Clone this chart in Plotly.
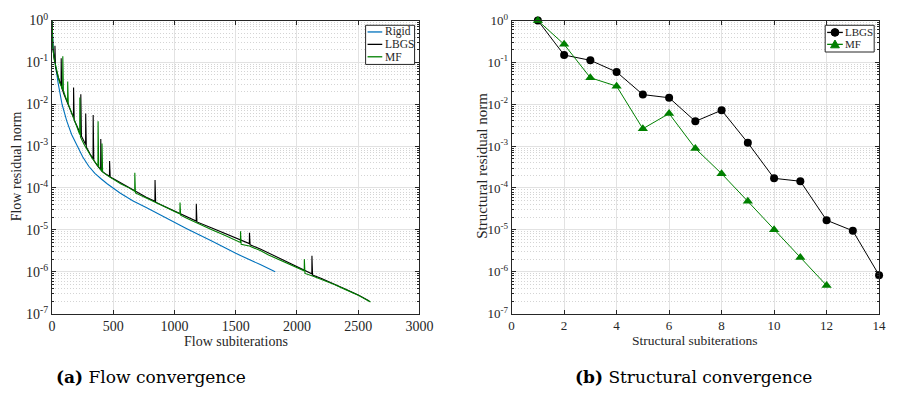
import plotly.graph_objects as go

# ---- Flow convergence (left panel) ----
rigid_iter = [0, 4, 10, 25, 50, 82, 120, 160, 205, 250, 300, 350, 400, 450, 555, 662,
              769, 943, 1100, 1300, 1500, 1700, 1822]
rigid_res = [1.0, 0.4, 0.2, 0.1, 0.032, 0.01, 0.004, 0.0019, 0.001, 5.6e-4, 3.3e-4,
             2.24e-4, 1.66e-4, 1.26e-4, 7.6e-5, 4.9e-5, 3.4e-5, 1.82e-5, 1.07e-5,
             5.5e-6, 2.75e-6, 1.48e-6, 1.0e-6]

lbgs_iter = [0, 6, 16, 23, 24, 28, 45, 70, 74, 75, 79, 100, 128, 150, 175, 176, 181, 200,
             234, 235, 240, 260, 274, 275, 280, 310, 335, 336, 341, 370, 397, 398, 403,
             435, 469, 470, 475, 502, 560, 636, 700, 769, 840, 841, 846, 920, 1000, 1100,
             1177, 1178, 1183, 1300, 1400, 1500, 1611, 1612, 1617, 1700, 1768, 1848, 1930,
             2008, 2121, 2122, 2127, 2200, 2300, 2384, 2500, 2590]
lbgs_res = [1.0, 0.24, 0.13, 0.10, 0.25, 0.079, 0.05, 0.030, 0.028, 0.126, 0.025, 0.0166,
            0.01, 0.0071, 0.0048, 0.025, 0.0042, 0.0032, 0.0019, 0.0174, 0.00174, 0.00132,
            0.0011, 0.006, 0.00095, 0.00066, 0.0005, 0.0055, 0.00046, 0.00034, 0.000275,
            0.00148, 0.00026, 0.00022, 0.00019, 0.00044, 0.000182, 0.000166, 0.000132,
            1.0e-4, 7.9e-5, 6.0e-5, 4.8e-5, 1.55e-4, 4.6e-5, 3.6e-5, 2.8e-5, 2.0e-5,
            1.62e-5, 4.2e-5, 1.55e-5, 1.12e-5, 8.5e-6, 6.5e-6, 4.7e-6, 8.5e-6, 4.4e-6,
            3.5e-6, 2.8e-6, 2.14e-6, 1.66e-6, 1.32e-6, 8.9e-7, 2.4e-6, 8.3e-7, 6.9e-7,
            5.2e-7, 4.0e-7, 2.8e-7, 2.0e-7]

mf_iter = [0, 8, 20, 40, 60, 87, 88, 93, 110, 127, 128, 133, 160, 195, 226, 227, 232, 260,
           288, 330, 375, 376, 381, 407, 408, 413, 450, 502, 560, 636, 675, 676, 681, 769,
           840, 920, 1000, 1044, 1045, 1050, 1100, 1177, 1300, 1400, 1538, 1539, 1544,
           1611, 1700, 1768, 1848, 1930, 2008, 2059, 2060, 2065, 2127, 2200, 2300, 2384,
           2500, 2600]
mf_res = [1.0, 0.2, 0.112, 0.063, 0.035, 0.022, 0.14, 0.021, 0.015, 0.0112, 0.035, 0.01,
          0.0063, 0.0032, 0.0019, 0.0145, 0.00166, 0.00112, 0.00081, 0.0005, 0.00034,
          0.0039, 0.00032, 0.00025, 0.00115, 0.00024, 0.0002, 0.000162, 0.000126, 9.8e-5,
          8.3e-5, 2.3e-4, 7.6e-5, 5.8e-5, 4.7e-5, 3.55e-5, 2.75e-5, 2.4e-5, 4.5e-5,
          2.24e-5, 1.9e-5, 1.48e-5, 1.02e-5, 7.6e-6, 5.0e-6, 9.3e-6, 4.5e-6, 4.1e-6,
          3.2e-6, 2.5e-6, 1.95e-6, 1.51e-6, 1.2e-6, 1.05e-6, 2.0e-6, 9.1e-7, 7.9e-7,
          6.6e-7, 5.0e-7, 3.9e-7, 2.75e-7, 1.9e-7]

# ---- Structural convergence (right panel) ----
lbgs_s_iter = [1, 2, 3, 4, 5, 6, 7, 8, 9, 10, 11, 12, 13, 14]
lbgs_s_res = [1.0, 0.15, 0.112, 0.059, 0.017, 0.0143, 0.0039, 0.0072, 0.0012, 1.7e-4,
              1.45e-4, 1.7e-5, 9.5e-6, 8.3e-7]
mf_s_iter = [1, 2, 3, 4, 5, 6, 7, 8, 9, 10, 11, 12]
mf_s_res = [1.0, 0.27, 0.043, 0.027, 0.0026, 0.006, 8.8e-4, 2.2e-4, 4.8e-5, 1.0e-5,
            2.2e-6, 4.7e-7]

# Tick labels
decade_vals = [1e-7, 1e-6, 1e-5, 1e-4, 1e-3, 1e-2, 1e-1, 1e0]
decade_text = ["10<sup>-7</sup>", "10<sup>-6</sup>", "10<sup>-5</sup>", "10<sup>-4</sup>",
               "10<sup>-3</sup>", "10<sup>-2</sup>", "10<sup>-1</sup>", "10<sup>0</sup>"]
flow_xticks = [0, 500, 1000, 1500, 2000, 2500, 3000]
struct_xticks = [0, 2, 4, 6, 8, 10, 12, 14]

W, H = 897, 398
BLUE = "#0072BD"
GREEN = "#008000"
AXC = "#262626"
SERIF = "Liberation Serif"


def px(x):
    return x / W


def py(y):
    return 1 - y / H


fig = go.Figure()
flow_series = [("Rigid", rigid_iter, rigid_res, BLUE),
               ("LBGS", lbgs_iter, lbgs_res, "black"),
               ("MF", mf_iter, mf_res, GREEN)]
for name, xs, ys, col in flow_series:
    fig.add_trace(go.Scatter(x=xs, y=ys, mode="lines", name=name, showlegend=False,
                             line=dict(color=col, width=1.1), xaxis="x", yaxis="y"))

struct_series = [("LBGS", lbgs_s_iter, lbgs_s_res, "black", "circle", 8),
                 ("MF", mf_s_iter, mf_s_res, GREEN, "triangle-up", 9)]
for name, xs, ys, col, sym, size in struct_series:
    fig.add_trace(go.Scatter(x=xs, y=ys, mode="lines+markers", name=name, showlegend=False,
                             line=dict(color=col, width=1),
                             marker=dict(symbol=sym, size=size, color=col),
                             xaxis="x2", yaxis="y2", cliponaxis=False))


def xaxis_style(domain, rng, ticks, font, anchor):
    return dict(domain=domain, range=rng, tickvals=ticks, ticktext=[str(t) for t in ticks],
                anchor=anchor, ticks="inside", ticklen=4, tickcolor=AXC, showline=True,
                linecolor=AXC, linewidth=1, mirror="allticks", showgrid=True,
                gridcolor="#e2e2e2", gridwidth=1, zeroline=False, tickfont=font)


def yaxis_style(domain, anchor, font):
    return dict(domain=domain, anchor=anchor, type="log", range=[-7, 0],
                tickvals=decade_vals, ticktext=decade_text, ticks="inside", ticklen=4,
                tickcolor=AXC, showline=True, linecolor=AXC, linewidth=1,
                mirror="allticks", showgrid=True, gridcolor="#e2e2e2", gridwidth=1,
                zeroline=False, tickfont=font,
                minor=dict(dtick="D1", ticks="inside", ticklen=2, tickcolor=AXC,
                           showgrid=True, gridcolor="#d4d4d4", griddash="1px,2px",
                           gridwidth=1))


left_font = dict(family=SERIF, size=14, color=AXC)
right_font = dict(family=SERIF, size=13, color=AXC)
ydom = [py(318), py(11)]

fig.update_layout(
    width=W, height=H, margin=dict(l=0, r=0, t=0, b=0),
    paper_bgcolor="white", plot_bgcolor="white", showlegend=False,
    xaxis=xaxis_style([px(49), px(424)], [0, 3000], flow_xticks, left_font, "y"),
    yaxis=yaxis_style(ydom, "x", left_font),
    xaxis2=xaxis_style([px(518), px(893)], [0, 14], struct_xticks, right_font, "y2"),
    yaxis2=yaxis_style(ydom, "x2", right_font),
)

shapes = []
annotations = []


def legend_box(x0, x1, y0, y1, entries, line_x0, line_x1, text_x, font_size):
    """Compact boxed legend; entries are (name, colour, row_y, marker)."""
    shapes.append(dict(type="rect", xref="paper", yref="paper", x0=px(x0), x1=px(x1),
                       y0=py(y1), y1=py(y0), line=dict(color=AXC, width=1),
                       fillcolor="white", layer="above"))
    for name, col, yy, marker in entries:
        shapes.append(dict(type="line", xref="paper", yref="paper", x0=px(line_x0),
                           x1=px(line_x1), y0=py(yy), y1=py(yy),
                           line=dict(color=col, width=1.3), layer="above"))
        cx = (line_x0 + line_x1) / 2
        if marker == "circle":
            r = 4
            shapes.append(dict(type="circle", xref="paper", yref="paper",
                               x0=px(cx - r), x1=px(cx + r), y0=py(yy + r), y1=py(yy - r),
                               fillcolor=col, line=dict(color=col, width=1), layer="above"))
        elif marker == "triangle":
            h = 4.5
            path = "M {} {} L {} {} L {} {} Z".format(px(cx), py(yy - h), px(cx - h),
                                                    py(yy + h * 0.8), px(cx + h),
                                                    py(yy + h * 0.8))
            shapes.append(dict(type="path", xref="paper", yref="paper", path=path,
                               fillcolor=col, line=dict(color=col, width=1), layer="above"))
        annotations.append(dict(text=name, x=px(text_x), y=py(yy), xanchor="left",
                                borderpad=0,
                                font=dict(family=SERIF, size=font_size, color=AXC)))


legend_box(369, 419, 16, 57,
           [(s[0], s[3], yy, None) for s, yy in zip(flow_series, [23, 36, 49])],
           371, 386, 387.5, 11.5)
legend_box(838, 888, 16, 44,
           [(s[0], s[3], yy, m) for s, yy, m in zip(struct_series, [23.5, 36],
                                                     ["circle", "triangle"])],
           840, 856, 857, 11)

annotations += [
    dict(text="Flow subiterations", x=px(237), y=py(347),
         font=dict(family=SERIF, size=14, color=AXC)),
    dict(text="Flow residual norm", x=px(13), y=py(164), textangle=-90,
         font=dict(family=SERIF, size=14, color=AXC)),
    dict(text="Structural subiterations", x=px(705), y=py(346),
         font=dict(family=SERIF, size=13.5, color=AXC)),
    dict(text="Structural residual norm", x=px(487), y=py(163), textangle=-90,
         font=dict(family=SERIF, size=15, color=AXC)),
    dict(text="<b>(a)</b> Flow convergence", x=px(150), y=py(384),
         font=dict(family="DejaVu Serif", size=17, color="black")),
    dict(text="<b>(b)</b> Structural convergence", x=px(704), y=py(384),
         font=dict(family="DejaVu Serif", size=17, color="black")),
]
for a in annotations:
    a.setdefault("xanchor", "center")
    fig.add_annotation(xref="paper", yref="paper", showarrow=False, yanchor="middle", **a)

fig.update_layout(shapes=shapes)
fig.write_html("out.html")
